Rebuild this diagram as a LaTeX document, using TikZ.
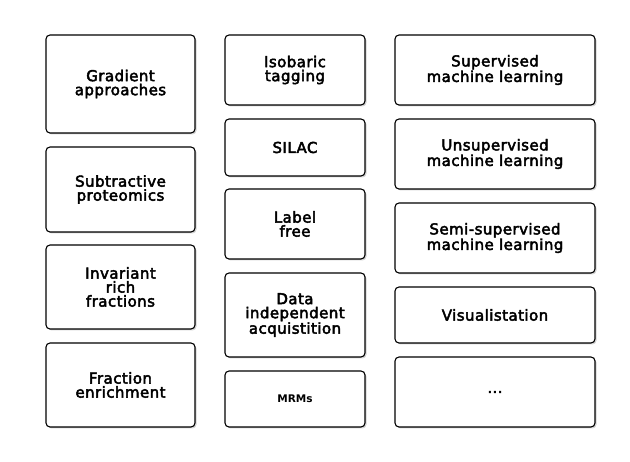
\documentclass[tikz,border=0pt]{standalone}
\usepackage{fontspec}
\setmainfont{DejaVu Sans}
\newfontfamily\boxfont[FakeBold=3, LetterSpace=3]{DejaVu Sans}
\usetikzlibrary{shadows}

\tikzset{
  box/.style={draw, rounded corners=4pt, line width=1.1pt, fill=white,
    align=center, inner sep=2pt,
    font=\boxfont\fontsize{15}{14}\selectfont,
    drop shadow={shadow xshift=1.5pt, shadow yshift=-1.5pt, opacity=0.35}},
  prepbox/.style={box, minimum width=149pt},
  quantbox/.style={box, minimum width=140pt},
  mlbox/.style={box, minimum width=200pt}
}

\begin{document}
\begin{tikzpicture}[x=1pt, y=-1pt]
            \useasboundingbox (0,0) rectangle (630,462);

            % sample preparation
            \node[prepbox, minimum height=98pt] (grad) at (120.5,84) {Gradient\\approaches};
            \node[prepbox, minimum height=85pt] (subtr) at (120.5,189.5) {Subtractive\\proteomics};
            \node[prepbox, minimum height=84pt] (invar) at (120.5,287) {Invariant\\rich\\fractions};
            \node[prepbox, minimum height=84pt] (fract) at (120.5,385) {Fraction\\enrichment};

            % quantitation
            \node[quantbox, minimum height=70pt] (iso) at (295,70) {Isobaric\\tagging};
            \node[quantbox, minimum height=57pt] (silac) at (295,147.5) {SILAC};
            \node[quantbox, minimum height=70pt] (lfree) at (295,224) {Label\\free};
            \node[quantbox, minimum height=84pt] (dia) at (295,315) {Data\\independent\\acquistition};
            \node[quantbox, minimum height=56pt, font=\bfseries\fontsize{10.5}{12}\selectfont] (mrm) at (295,399) {MRMs};

            % analysis
            \node[mlbox, minimum height=70pt] (sup) at (495,70) {Supervised\\machine learning};
            \node[mlbox, minimum height=70pt] (unsup) at (495,154) {Unsupervised\\machine learning};
            \node[mlbox, minimum height=70pt] (semi) at (495,238) {Semi-supervised\\machine learning};
            \node[mlbox, minimum height=56pt] (vis) at (495,315) {Visualistation};
            \node[mlbox, minimum height=70pt] (etc) at (495,392) {...};
\end{tikzpicture}
\end{document}
